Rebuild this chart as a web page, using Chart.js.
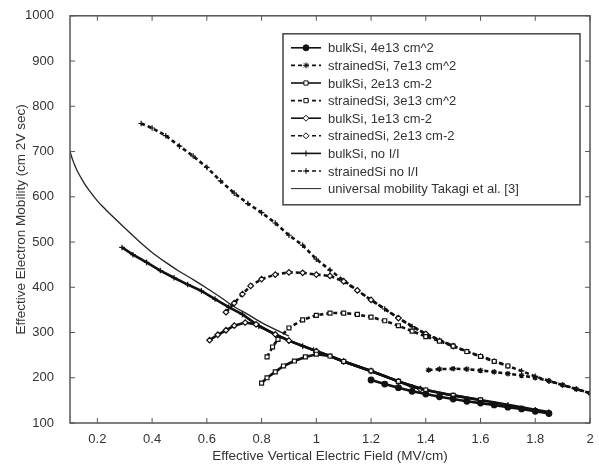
<!DOCTYPE html>
<html>
<head>
<meta charset="utf-8">
<script src="https://cdn.jsdelivr.net/npm/chart.js@4"></script>
<style>
  html, body { margin: 0; padding: 0; background: #fff; }
  #wrap { width: 599px; height: 464px; }
</style>
</head>
<body>
<div id="wrap"><canvas id="grafico"></canvas></div>
<script>
// tick values
var xTicks = [0.2, 0.4, 0.6, 0.8, 1, 1.2, 1.4, 1.6, 1.8, 2];
var yTicks = [100, 200, 300, 400, 500, 600, 700, 800, 900, 1000];

var seriesNames = [
    'bulkSi, 4e13 cm^2',
    'strainedSi, 7e13 cm^2',
    'bulkSi, 2e13 cm-2',
    'strainedSi, 3e13 cm^2',
    'bulkSi, 1e13 cm-2',
    'strainedSi, 2e13 cm-2',
    'bulkSi, no I/I',
    'strainedSi no I/I',
    'universal mobility Takagi et al. [3]'
];

// effective field (MV/cm) and mobility
var fieldBulk4e13 = [1.2, 1.25, 1.3, 1.35, 1.4, 1.45, 1.5, 1.55, 1.6, 1.65, 1.7, 1.75, 1.8, 1.85];
var mobBulk4e13   = [195, 186, 178, 170, 164, 158, 153, 148, 144, 140, 135, 131, 126, 121];

var fieldStr7e13 = [1.41, 1.45, 1.5, 1.55, 1.6, 1.65, 1.7, 1.75, 1.8, 1.85, 1.9, 1.95, 2.0];
var mobStr7e13   = [217, 219, 220, 219, 216, 213, 209, 205, 200, 193, 184, 175, 166];

var fieldBulk2e13 = [0.8, 0.82, 0.85, 0.88, 0.92, 0.96, 1.0, 1.05, 1.1, 1.2, 1.3, 1.4, 1.5, 1.6];
var mobBulk2e13   = [188, 200, 213, 226, 237, 246, 252, 248, 236, 215, 192, 173, 161, 151];

var fieldStr3e13 = [0.82, 0.84, 0.86, 0.9, 0.95, 1.0, 1.05, 1.1, 1.15, 1.2, 1.25, 1.3, 1.35, 1.4, 1.45, 1.5, 1.55, 1.6, 1.65, 1.7];
var mobStr3e13   = [246, 268, 285, 310, 328, 338, 343, 343, 340, 334, 326, 315, 303, 291, 281, 270, 258, 247, 236, 226];

var fieldBulk1e13 = [0.61, 0.64, 0.67, 0.7, 0.74, 0.78, 0.85, 0.9, 1.0, 1.1, 1.2, 1.3, 1.38];
var mobBulk1e13   = [283, 295, 305, 315, 322, 318, 296, 282, 259, 236, 215, 192, 175];

var fieldStr2e13 = [0.67, 0.7, 0.73, 0.76, 0.8, 0.85, 0.9, 0.95, 1.0, 1.05, 1.1, 1.15, 1.2, 1.3, 1.4, 1.5];
var mobStr2e13   = [345, 365, 385, 403, 418, 428, 433, 432, 428, 425, 413, 393, 372, 332, 297, 270];

var fieldBulkNoII = [0.29, 0.33, 0.38, 0.43, 0.48, 0.53, 0.58, 0.63, 0.68, 0.73, 0.79, 0.85, 0.9, 0.95, 0.99, 1.05, 1.1, 1.2, 1.3, 1.35, 1.4, 1.5, 1.6, 1.7, 1.8, 1.85];
var mobBulkNoII   = [488, 472, 455, 437, 421, 406, 392, 374, 356, 340, 314, 296, 282, 270, 261, 248, 236, 215, 192, 180, 173, 161, 151, 140, 129, 124];

var fieldStrNoII = [0.36, 0.4, 0.45, 0.5, 0.55, 0.6, 0.65, 0.7, 0.75, 0.8, 0.85, 0.9, 0.95, 1.0, 1.05, 1.1, 1.15, 1.2, 1.25, 1.3, 1.35, 1.4, 1.45, 1.5, 1.55, 1.6, 1.65, 1.7, 1.75, 1.8, 1.85, 1.9, 1.95, 2.0];
var mobStrNoII   = [762, 752, 735, 712, 690, 665, 635, 608, 585, 565, 542, 515, 493, 462, 438, 415, 393, 372, 352, 332, 313, 297, 283, 270, 258, 248, 237, 226, 215, 203, 193, 184, 175, 166];

var fieldUniversal = [0.1, 0.11, 0.12, 0.13, 0.15, 0.17, 0.2, 0.23, 0.26, 0.3, 0.35, 0.4, 0.45, 0.5, 0.55, 0.6, 0.65, 0.7, 0.75, 0.8, 0.9];
var mobUniversal   = [700, 681, 666, 653, 632, 614, 591, 572, 554, 531, 503, 477, 455, 435, 417, 398, 378, 357, 340, 322, 292];

function pares(xs, ys) {
    var out = [];
    for (var i = 0; i < xs.length; i++) {
        out.push({ x: xs[i], y: ys[i] });
    }
    return out;
}

function serie(label, xs, ys, estilo, relleno, dash) {
    return {
        label: label,
        data: pares(xs, ys),
        showLine: true,
        borderColor: '#111',
        borderWidth: 2.6,
        borderDash: dash,
        pointStyle: estilo,
        pointRadius: 2.8,
        pointBorderWidth: 1.2,
        pointBorderColor: '#111',
        pointBackgroundColor: relleno
    };
}

var datasets = [
    serie(seriesNames[0], fieldBulk4e13, mobBulk4e13, 'circle', '#111', []),
    serie(seriesNames[1], fieldStr7e13, mobStr7e13, 'star', '#111', [4, 3]),
    serie(seriesNames[2], fieldBulk2e13, mobBulk2e13, 'rect', '#fff', []),
    serie(seriesNames[3], fieldStr3e13, mobStr3e13, 'rect', '#fff', [4, 3]),
    serie(seriesNames[4], fieldBulk1e13, mobBulk1e13, 'rectRot', '#fff', []),
    serie(seriesNames[5], fieldStr2e13, mobStr2e13, 'rectRot', '#fff', [4, 3]),
    serie(seriesNames[6], fieldBulkNoII, mobBulkNoII, 'cross', '#111', []),
    serie(seriesNames[7], fieldStrNoII, mobStrNoII, 'cross', '#111', [4, 3]),
    {
        label: seriesNames[8],
        data: pares(fieldUniversal, mobUniversal),
        showLine: true,
        borderColor: '#222',
        borderWidth: 1.3,
        tension: 0.3,
        pointRadius: 0,
        pointStyle: false
    }
];

var textColor = '#333';
var fontFamily = '"Liberation Sans", Arial, sans-serif';

// frame with inward ticks on all four sides (matlab style)
var marcoPlugin = {
    id: 'marco',
    afterDraw: function(chart) {
        var ctx = chart.ctx;
        var a = chart.chartArea;
        var sx = chart.scales.x, sy = chart.scales.y;
        ctx.save();
        ctx.strokeStyle = '#555';
        ctx.lineWidth = 1.5;
        ctx.strokeRect(a.left, a.top, a.right - a.left, a.bottom - a.top);
        ctx.lineWidth = 1;
        ctx.beginPath();
        xTicks.forEach(function(v) {
            var px = sx.getPixelForValue(v);
            ctx.moveTo(px, a.bottom); ctx.lineTo(px, a.bottom - 5);
            ctx.moveTo(px, a.top); ctx.lineTo(px, a.top + 5);
        });
        yTicks.forEach(function(v) {
            var py = sy.getPixelForValue(v);
            ctx.moveTo(a.left, py); ctx.lineTo(a.left + 5, py);
            ctx.moveTo(a.right, py); ctx.lineTo(a.right - 5, py);
        });
        ctx.stroke();
        ctx.restore();
    }
};

// boxed legend inside the plot, top right
var leyendaPlugin = {
    id: 'leyenda',
    afterDraw: function(chart) {
        var ctx = chart.ctx;
        var a = chart.chartArea;
        var left = a.right - 307, top = a.top + 18;
        var right = a.right - 10, bottom = top + 171;
        var paso = 17.6;
        ctx.save();
        ctx.fillStyle = '#fff';
        ctx.fillRect(left, top, right - left, bottom - top);
        ctx.strokeStyle = '#444';
        ctx.lineWidth = 1.5;
        ctx.strokeRect(left, top, right - left, bottom - top);
        ctx.font = '13px ' + fontFamily;
        ctx.textBaseline = 'middle';
        chart.data.datasets.forEach(function(ds, i) {
            var y = top + 14 + i * paso;
            ctx.strokeStyle = ds.borderColor;
            ctx.lineWidth = ds.pointRadius ? 1.6 : 1;
            ctx.setLineDash(ds.borderDash || []);
            ctx.beginPath();
            ctx.moveTo(left + 8, y);
            ctx.lineTo(left + 38, y);
            ctx.stroke();
            ctx.setLineDash([]);
            if (ds.pointRadius) {
                ctx.fillStyle = ds.pointBackgroundColor;
                ctx.strokeStyle = ds.pointBorderColor;
                ctx.lineWidth = 1;
                Chart.helpers.drawPoint(ctx, {
                    pointStyle: ds.pointStyle,
                    radius: 3,
                    rotation: 0,
                    borderWidth: 1
                }, left + 23, y);
            }
            ctx.fillStyle = textColor;
            ctx.fillText(ds.label, left + 45, y + 1);
        });
        ctx.restore();
    }
};

var grafico = new Chart(document.getElementById('grafico').getContext('2d'), {
    type: 'scatter',
    data: { datasets: datasets },
    options: {
        responsive: true,
        maintainAspectRatio: false,
        animation: false,
        layout: { padding: { left: 0, right: 9, top: 15, bottom: 0 } },
        plugins: {
            legend: { display: false },
            tooltip: { enabled: false }
        },
        scales: {
            x: {
                type: 'linear',
                min: 0.1,
                max: 2,
                afterBuildTicks: function(scale) {
                    scale.ticks = xTicks.map(function(v) { return { value: v }; });
                },
                afterFit: function(scale) { scale.height = 41; },
                grid: { display: false },
                border: { display: false },
                ticks: {
                    color: textColor,
                    padding: 1,
                    maxRotation: 0,
                    font: { family: fontFamily, size: 13 },
                    callback: function(v) { return String(v); }
                },
                title: {
                    display: true,
                    text: 'Effective Vertical Electric Field (MV/cm)',
                    color: textColor,
                    padding: { top: 0, bottom: 0 },
                    font: { family: fontFamily, size: 13.5 }
                }
            },
            y: {
                type: 'linear',
                min: 100,
                max: 1000,
                afterBuildTicks: function(scale) {
                    scale.ticks = yTicks.map(function(v) { return { value: v }; });
                },
                afterFit: function(scale) { scale.width = 70; },
                grid: { display: false },
                border: { display: false },
                ticks: {
                    color: textColor,
                    padding: 8,
                    font: { family: fontFamily, size: 13 },
                    callback: function(v) { return String(v); }
                },
                title: {
                    display: true,
                    text: 'Effective Electron Mobility (cm 2V sec)',
                    color: textColor,
                    padding: { top: 13, bottom: 0 },
                    font: { family: fontFamily, size: 13.5 }
                }
            }
        }
    },
    plugins: [marcoPlugin, leyendaPlugin]
});
</script>
</body>
</html>
